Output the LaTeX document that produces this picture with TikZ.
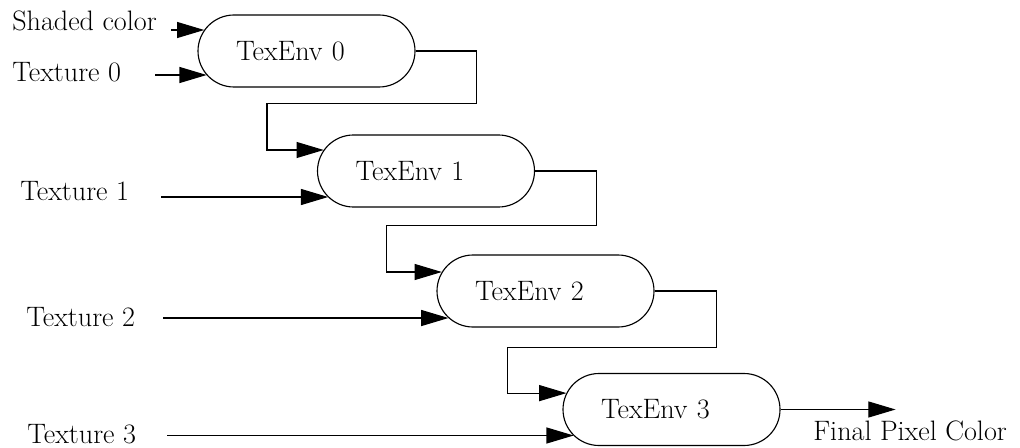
\documentclass[tikz,border=0pt]{standalone}
\usepackage{tikz}
\usetikzlibrary{arrows.meta, positioning, calc}

\begin{document}
\begin{tikzpicture}[
			font=\fontsize{20}{24}\selectfont,
			env/.style={rectangle, rounded corners=0.9cm, draw=black, line width=0.8pt, minimum height=1.8cm, text width=3.525cm, inner xsep=0.95cm, inner ysep=0pt, align=left},
			lbl/.style={inner sep=0pt, anchor=west},
			flow/.style={-{Triangle[length=0.68cm, width=0.4cm]}, line width=0.8pt}
			]
			\useasboundingbox (0,0) rectangle (25.5,-11.175);
			
			\node[env] (e0) at (7.6625,-1.275) {TexEnv 0};
			\node[env] (e1) at (10.65,-4.275) {TexEnv 1};
			\node[env] (e2) at (13.6375,-7.275) {TexEnv 2};
			\node[env] (e3) at (16.7875,-10.2375) {TexEnv 3};
			
			\node[lbl] (shd) at (0.3,-0.525) {Shaded color};
			\node[lbl] (t0) at (0.3,-1.8) {Texture 0};
			\node[lbl] (t1) at (0.5,-4.775) {Texture 1};
			\node[lbl] (t2) at (0.65,-7.925) {Texture 2};
			\node[lbl] (t3) at (0.675,-10.85) {Texture 3};
			\node[lbl] (fin) at (20.325,-10.775) {Final Pixel Color};
			
			% points where the inputs meet the round ends
			\coordinate (e0a) at ([shift={(0.17,0.525)}]e0.west);
			\coordinate (e0b) at ([shift={(0.23,-0.6)}]e0.west);
			\coordinate (e1a) at ([shift={(0.17,0.525)}]e1.west);
			\coordinate (e1b) at ([shift={(0.28,-0.65)}]e1.west);
			\coordinate (e2a) at ([shift={(0.135,0.475)}]e2.west);
			\coordinate (e2b) at ([shift={(0.3,-0.675)}]e2.west);
			\coordinate (e3a) at ([shift={(0.1,0.41)}]e3.west);
			\coordinate (e3b) at ([shift={(0.28,-0.65)}]e3.west);
			
			\draw[flow] ($(shd.west |- e0a)+(3.975,0)$) -- (e0a);
			\draw[flow] ($(t0.west |- e0b)+(3.575,0)$) -- (e0b);
			\draw[flow] ($(t1.west |- e1b)+(3.525,0)$) -- (e1b);
			\draw[flow] ($(t2.west |- e2b)+(3.425,0)$) -- (e2b);
			\draw[flow] ($(t3.west |- e3b)+(3.5,0)$) -- (e3b);
			
			\draw[flow] (e0.east) -- ++(1.525,0) |- ($(e0.south -| e1.west)+(-1.25,-0.4)$) |- (e1a);
			\draw[flow] (e1.east) -- ++(1.525,0) |- ($(e1.south -| e2.west)+(-1.25,-0.45)$) |- (e2a);
			\draw[flow] (e2.east) -- ++(1.55,0) |- ($(e2.south -| e3.west)+(-1.375,-0.5)$) |- (e3a);
			\draw[flow] (e3.east) -- ++(2.875,0);
		\end{tikzpicture}
\end{document}
